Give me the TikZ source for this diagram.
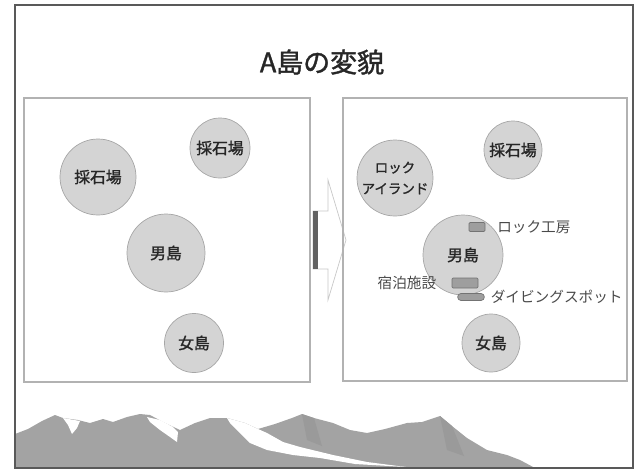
\documentclass[tikz,border=0pt]{standalone}
\usepackage{fontspec}
\newfontfamily\gothic{Noto Sans CJK JP}
\newfontfamily\gothicbold[FakeBold=1.4]{Noto Sans CJK JP}
\usetikzlibrary{positioning}
\definecolor{c1}{HTML}{262626}
\definecolor{c2}{HTML}{A6A6A6}
\definecolor{c3}{HTML}{D4D4D4}
\definecolor{c4}{HTML}{A3A3A3}
\definecolor{c5}{HTML}{9A9A9A}
\definecolor{labelcolor}{HTML}{4A4A4A}

\begin{document}
\begin{tikzpicture}[
    x=0.03cm, y=-0.03cm,
    every node/.style={font=\gothic},
    frame/.style={draw=black!65, line width=1.8pt},
    panel/.style={draw=black!30, line width=1.1pt},
    isle/.style={circle, draw=c2, fill=c3, line width=0.6pt, minimum size=#1,
                 inner sep=0pt, text=c1, font=\gothicbold\fontsize{13.5}{16}\selectfont},
    spot/.style={rectangle, draw=black!55, fill=black!38, line width=0.6pt,
                 inner sep=0pt},
    note/.style={inner sep=0pt, text=labelcolor, font=\gothic\fontsize{12.5}{15}\selectfont},
    pointer/.style={draw=black!22, fill=white, line width=0.6pt},
]
\useasboundingbox (0,0) rectangle (635,470);

\node[text=c1, font=\gothicbold\fontsize{23}{26}\selectfont] (title) at (322,62) {A島の変貌};

% ================================================================ left: before
\draw[panel] (24,98) rectangle (310,382);

\node[isle=2.28cm] (quarryA) at (98,177) {採石場};
\node[isle=1.80cm] (quarryB) at (220,148) {採石場};
\node[isle=2.34cm] (maleA) at (166,253) {男島};
\node[isle=1.77cm] (femaleA) at (194,343) {女島};

% block arrow between the two panels
\draw[pointer] (313,211) -- (328,211) -- (328,180) -- (346,240) -- (328,300)
    -- (328,269) -- (313,269) -- cycle;
\draw[black!62, line width=4.2pt] (315.5,211) -- (315.5,269);

% ================================================================ right: after
\draw[panel] (343,98) rectangle (627,381);

\node[isle=2.28cm, align=center, font=\gothicbold\fontsize{11.5}{18}\selectfont]
    (rock) at (395,178) {ロック\\アイランド};
\node[isle=1.74cm] (quarryC) at (513,150) {採石場};
\node[isle=2.40cm] (maleB) at (463,255) {男島};
\node[isle=1.74cm] (femaleB) at (491,343) {女島};

% facilities on the male island
\node[spot, minimum width=0.48cm, minimum height=0.27cm, rounded corners=1pt]
    (craft) at (477,227) {};
\node[note, right=10pt of craft] (craftlab) {ロック工房};

\node[spot, minimum width=0.78cm, minimum height=0.30cm, rounded corners=1pt]
    (lodge) at (465,283) {};
\node[note, left=13pt of lodge] (lodgelab) {宿泊施設};

\node[spot, minimum width=0.80cm, minimum height=0.21cm, rounded corners=0.1cm]
    (dive) at (471,297) {};
\node[note, right=5pt of dive] (divelab) {ダイビングスポット};

% ================================================================ mountains
\fill[c4] (15,468) -- (15,434) -- (28,429) -- (42,421) -- (55,415) -- (63,418)
    -- (78,420) -- (90,423) -- (103,419) -- (113,422) -- (127,417) -- (140,414)
    -- (150,415) -- (165,423) -- (180,430) -- (195,423) -- (210,418) -- (227,418)
    -- (245,423) -- (258,429) -- (275,424) -- (292,418) -- (302,414) -- (314,418)
    -- (333,423) -- (350,430) -- (367,433) -- (385,429) -- (407,423) -- (422,422)
    -- (440,416) -- (452,426) -- (467,438) -- (487,450) -- (507,455) -- (520,460)
    -- (535,468) -- cycle;
% darker ridges
\fill[c5] (302,414) -- (314,418) -- (322,446) -- (307,440) -- cycle;
\fill[c5] (440,416) -- (452,426) -- (464,456) -- (447,450) -- cycle;
% snow
\fill[white] (63,418) -- (80,421) -- (77,428) -- (72,434) -- (68,425) -- cycle;
\fill[white] (147,417) -- (160,420) -- (173,427) -- (178,432) -- (177,442)
    -- (170,437) -- (160,430) -- (150,422) -- cycle;
\fill[white] (227,418) -- (245,423) -- (258,429) -- (267,433) -- (283,442)
    -- (300,447) -- (333,455) -- (367,462) -- (406,467) -- (355,464) -- (320,458)
    -- (293,455) -- (267,450) -- (250,443) -- (240,433) -- (230,423) -- cycle;

\draw[frame] (15,5) rectangle (633,468);

\end{tikzpicture}
\end{document}
